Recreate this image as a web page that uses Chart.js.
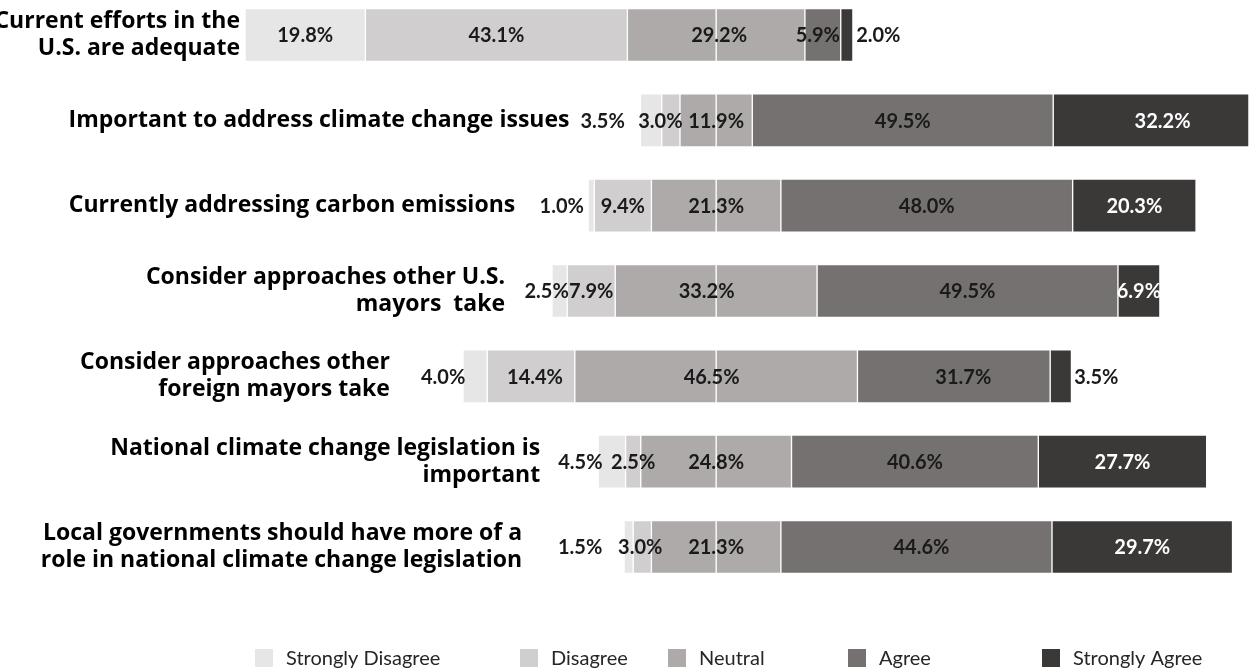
<!DOCTYPE html>
<html>
<head>
<meta charset="utf-8">
<script src="https://cdn.jsdelivr.net/npm/chart.js@4.4.0/dist/chart.umd.min.js"></script>
<style>
  html, body { margin: 0; padding: 0; background: #fff; }
</style>
</head>
<body>
<canvas id="likert" width="1249" height="672"></canvas>
<script>
// survey rows (top to bottom)
const categories = [
  ['Current efforts in the', 'U.S. are adequate'],
  ['Important to address climate change issues'],
  ['Currently addressing carbon emissions'],
  ['Consider approaches other U.S.', 'mayors  take'],
  ['Consider approaches other', 'foreign mayors take'],
  ['National climate change legislation is', 'important'],
  ['Local governments should have more of a', 'role in national climate change legislation']
];
const seriesNames = ['Strongly Disagree', 'Disagree', 'Neutral', 'Agree', 'Strongly Agree'];

// percentages
const stronglyDisagree = [19.8, 3.5, 1.0, 2.5, 4.0, 4.5, 1.5];
const disagree = [43.1, 3.0, 9.4, 7.9, 14.4, 2.5, 3.0];
const neutral = [29.2, 11.9, 21.3, 33.2, 46.5, 24.8, 21.3];
const agree = [5.9, 49.5, 48.0, 49.5, 31.7, 40.6, 44.6];
const stronglyAgree = [2.0, 32.2, 20.3, 6.9, 3.5, 27.7, 29.7];

const colors = ['#E7E6E6', '#D0CECE', '#AEAAAA', '#767171', '#3B3838'];

// hand placement of labels (px), like the excel original
const catGap = [5, 71, 73, 47, 73, 58, 102];
const labelNudge = [
  [0, -48.5, -29.5, -13, -32, -31.5, -48.5],
  [0, -10.5, 0, 0, 4, 0, -2],
  [3, 0, 0, -9.5, -4.5, 0, 0],
  [-5, 0, 0, 0, 9.5, 0, 5],
  [31.5, 11.5, 0, 0, 35.5, 0, 0]
];
const legendX = [255, 520, 668, 848, 1042];

// diverging layout: neutral is split around zero
const bounds = categories.map((c, i) => {
  const h = neutral[i] / 2;
  const l1 = -h, l2 = l1 - disagree[i], l3 = l2 - stronglyDisagree[i];
  const r1 = h + agree[i], r2 = r1 + stronglyAgree[i];
  return [l3, l2, l1, 0, h, r1, r2];
});

const dsColors = [colors[0], colors[1], colors[2], colors[2], colors[3], colors[4]];
const datasets = dsColors.map((col, k) => ({
  label: k < 3 ? seriesNames[k] : seriesNames[k - 1],
  data: bounds.map(b => [b[k], b[k + 1]]),
  backgroundColor: col,
  borderColor: '#ffffff',
  borderWidth: 1,
  borderSkipped: false,
  barThickness: 53,
  grouped: false,
  clip: false
}));

const segs = [
  { vals: stronglyDisagree, a: 0, b: 1 },
  { vals: disagree, a: 1, b: 2 },
  { vals: neutral, a: 2, b: 4 },
  { vals: agree, a: 4, b: 5 },
  { vals: stronglyAgree, a: 5, b: 6 }
];

const labelPlugin = {
  id: 'likertLabels',
  afterDatasetsDraw(chart) {
    const ctx = chart.ctx;
    const xs = chart.scales.x, ys = chart.scales.y;
    ctx.save();
    ctx.textBaseline = 'middle';

    // value labels
    ctx.font = 'bold 20px Lato';
    ctx.textAlign = 'center';
    segs.forEach((s, k) => {
      s.vals.forEach((v, i) => {
        const x0 = xs.getPixelForValue(bounds[i][s.a]);
        const x1 = xs.getPixelForValue(bounds[i][s.b]);
        const nudge = labelNudge[k][i];
        const outside = Math.abs(nudge) > (x1 - x0) / 2;
        ctx.fillStyle = (k === 4 && !outside) ? '#ffffff' : '#1a1a1a';
        ctx.fillText(v.toFixed(1) + '%', (x0 + x1) / 2 + nudge, ys.getPixelForValue(i) + 1);
      });
    });

    // category labels, right aligned next to each bar
    ctx.font = 'bold 23px "Open Sans"';
    ctx.textAlign = 'right';
    ctx.fillStyle = '#000000';
    categories.forEach((lines, i) => {
      const right = xs.getPixelForValue(bounds[i][0]) - catGap[i];
      const cy = ys.getPixelForValue(i);
      const lh = 27;
      lines.forEach((t, j) => {
        ctx.fillText(t, right, cy + (j - (lines.length - 1) / 2) * lh);
      });
    });

    // legend
    ctx.font = '20px Lato';
    ctx.textAlign = 'left';
    seriesNames.forEach((n, k) => {
      ctx.fillStyle = colors[k];
      ctx.fillRect(legendX[k], 649, 18, 18);
      ctx.fillStyle = '#262626';
      ctx.fillText(n, legendX[k] + 31, 659);
    });
    ctx.restore();
  }
};

new Chart(document.getElementById('likert'), {
  type: 'bar',
  data: {
    labels: categories.map(c => c.join(' ')),
    datasets: datasets
  },
  options: {
    indexAxis: 'y',
    responsive: false,
    animation: false,
    layout: { padding: { left: 242, right: 0, top: 35, bottom: 125 } },
    scales: {
      x: { type: 'linear', min: -78, max: 87.66, display: false },
      y: { type: 'category', offset: false, display: false }
    },
    plugins: {
      legend: { display: false },
      tooltip: { enabled: false }
    }
  },
  plugins: [labelPlugin]
});
</script>
</body>
</html>
